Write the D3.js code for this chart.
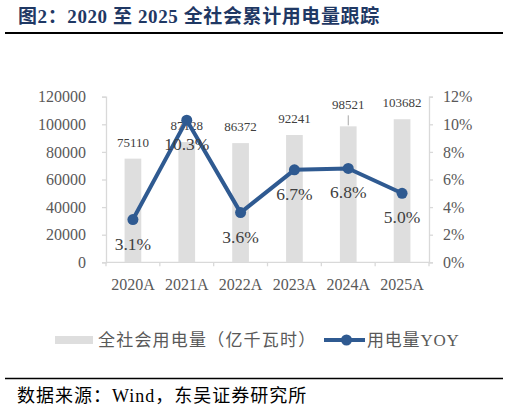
<!DOCTYPE html>
<html>
<head>
<meta charset="utf-8">
<script src="https://cdn.jsdelivr.net/npm/d3@7"></script>
<style>
  body { margin: 0; background: #fff; }
  svg text { font-family: "Liberation Serif", "Noto Sans CJK SC", serif; }
</style>
</head>
<body>
<svg id="chart" width="509" height="413"></svg>
<script>
'use strict';

// data
const years = ['2020A', '2021A', '2022A', '2023A', '2024A', '2025A'];
const usage = [75110, 87128, 86372, 92241, 98521, 103682];   // 亿千瓦时
const yoy = [3.1, 10.3, 3.6, 6.7, 6.8, 5.0];                 // %
const leftTicks = [0, 20000, 40000, 60000, 80000, 100000, 120000];
const rightTicks = [0, 2, 4, 6, 8, 10, 12];

const axisColor = '#d9d9d9';
const textColor = '#595959';
const lineColor = '#2f5a91';
const barColor = '#dedede';

const margin = {left: 106, right: 429, top: 96.7, bottom: 262.3};

let drawChart = () => {
    const svg = d3.select('#chart');
    svg.selectAll('*').remove();

    // title
    svg.append('text')
        .attr('x', 18).attr('y', 23)
        .attr('font-size', '19px')
        .attr('font-weight', 'bold')
        .attr('letter-spacing', '0.6px')
        .attr('fill', '#1f3864')
        .text('图2：2020 至 2025 全社会累计用电量跟踪');

    svg.append('line')
        .attr('x1', 5).attr('x2', 503).attr('y1', 33).attr('y2', 33)
        .attr('stroke', '#000').attr('stroke-width', 2);

    const x = d3.scaleBand().domain(years).range([margin.left, margin.right]).paddingInner(0).paddingOuter(0);
    const yL = d3.scaleLinear().domain([0, 120000]).range([margin.bottom, margin.top]);
    const yR = d3.scaleLinear().domain([0, 12]).range([margin.bottom, margin.top]);

    // left axis
    const gL = svg.append('g')
        .attr('transform', `translate(${margin.left},0)`)
        .call(d3.axisLeft(yL).tickValues(leftTicks).tickSize(4).tickPadding(16).tickFormat(d3.format('d')));
    // right axis
    const gR = svg.append('g')
        .attr('transform', `translate(${margin.right},0)`)
        .call(d3.axisRight(yR).tickValues(rightTicks).tickSize(4).tickPadding(10).tickFormat(d => d + '%'));
    // x axis with ticks between categories
    const gX = svg.append('g')
        .attr('transform', `translate(0,${margin.bottom})`)
        .call(d3.axisBottom(x).tickSize(0).tickPadding(16));

    [gL, gR, gX].forEach(g => {
        g.select('.domain').attr('stroke', axisColor).attr('stroke-width', 1.3);
        g.selectAll('.tick line').attr('stroke', axisColor).attr('stroke-width', 1.3);
        g.selectAll('.tick text')
            .attr('fill', textColor)
            .attr('font-size', '16px')
            .attr('font-family', '"Liberation Serif", serif');
    });
    gX.select('.domain').attr('d', `M${margin.left},0H${margin.right}`);

    const bounds = years.map(d => x(d)).concat([margin.right]);
    svg.append('g').selectAll('line')
        .data(bounds)
        .enter().append('line')
        .attr('x1', d => d).attr('x2', d => d)
        .attr('y1', margin.bottom).attr('y2', margin.bottom + 4)
        .attr('stroke', axisColor).attr('stroke-width', 1.3);

    // bars
    const barW = x.bandwidth() * 0.31;
    svg.append('g').selectAll('rect')
        .data(usage)
        .enter().append('rect')
        .attr('x', (d, i) => x(years[i]) + (x.bandwidth() - barW) / 2)
        .attr('width', barW)
        .attr('y', d => yL(d))
        .attr('height', d => margin.bottom - yL(d))
        .attr('fill', barColor);

    // bar labels (the 2024A one is pushed up with a leader line)
    const leaderIdx = 4;
    svg.append('g').selectAll('text')
        .data(usage)
        .enter().append('text')
        .attr('x', (d, i) => x(years[i]) + x.bandwidth() / 2)
        .attr('y', (d, i) => yL(d) - (i === leaderIdx ? 17 : 12))
        .attr('text-anchor', 'middle')
        .attr('font-size', '13px')
        .attr('fill', '#404040')
        .text(d => d);
    svg.append('line')
        .attr('x1', x(years[leaderIdx]) + x.bandwidth() / 2)
        .attr('x2', x(years[leaderIdx]) + x.bandwidth() / 2)
        .attr('y1', yL(usage[leaderIdx]) - 11)
        .attr('y2', yL(usage[leaderIdx]) - 1)
        .attr('stroke', '#a6a6a6').attr('stroke-width', 1);

    // yoy line
    const line = d3.line()
        .x((d, i) => x(years[i]) + x.bandwidth() / 2)
        .y(d => yR(d));
    svg.append('path')
        .datum(yoy)
        .attr('d', line)
        .attr('fill', 'none')
        .attr('stroke', lineColor)
        .attr('stroke-width', 4)
        .attr('stroke-linejoin', 'round');

    svg.append('g').selectAll('circle')
        .data(yoy)
        .enter().append('circle')
        .attr('cx', (d, i) => x(years[i]) + x.bandwidth() / 2)
        .attr('cy', d => yR(d))
        .attr('r', 5.5)
        .attr('fill', lineColor);

    svg.append('g').selectAll('text')
        .data(yoy)
        .enter().append('text')
        .attr('x', (d, i) => x(years[i]) + x.bandwidth() / 2)
        .attr('y', d => yR(d) + 30)
        .attr('text-anchor', 'middle')
        .attr('font-size', '17.5px')
        .attr('fill', '#404040')
        .text(d => d.toFixed(1) + '%');

    // legend
    const lg = svg.append('g');
    lg.append('rect')
        .attr('x', 55).attr('y', 336).attr('width', 38).attr('height', 8)
        .attr('fill', barColor);
    lg.append('text')
        .attr('x', 98).attr('y', 346)
        .attr('font-size', '17px')
        .attr('letter-spacing', '1.2px')
        .attr('fill', textColor)
        .text('全社会用电量（亿千瓦时）');
    lg.append('line')
        .attr('x1', 324).attr('x2', 365).attr('y1', 340).attr('y2', 340)
        .attr('stroke', lineColor).attr('stroke-width', 4);
    lg.append('circle')
        .attr('cx', 346.5).attr('cy', 340).attr('r', 5.5)
        .attr('fill', lineColor);
    lg.append('text')
        .attr('x', 367).attr('y', 346)
        .attr('font-size', '17px')
        .attr('letter-spacing', '0.8px')
        .attr('fill', textColor)
        .text('用电量YOY');

    // footer
    svg.append('line')
        .attr('x1', 5).attr('x2', 503).attr('y1', 378.5).attr('y2', 378.5)
        .attr('stroke', '#000').attr('stroke-width', 1.5);
    svg.append('text')
        .attr('x', 17).attr('y', 402)
        .attr('font-size', '18px')
        .attr('letter-spacing', '1px')
        .attr('fill', '#000')
        .text('数据来源：Wind，东吴证券研究所');
}

drawChart();
</script>
</body>
</html>
